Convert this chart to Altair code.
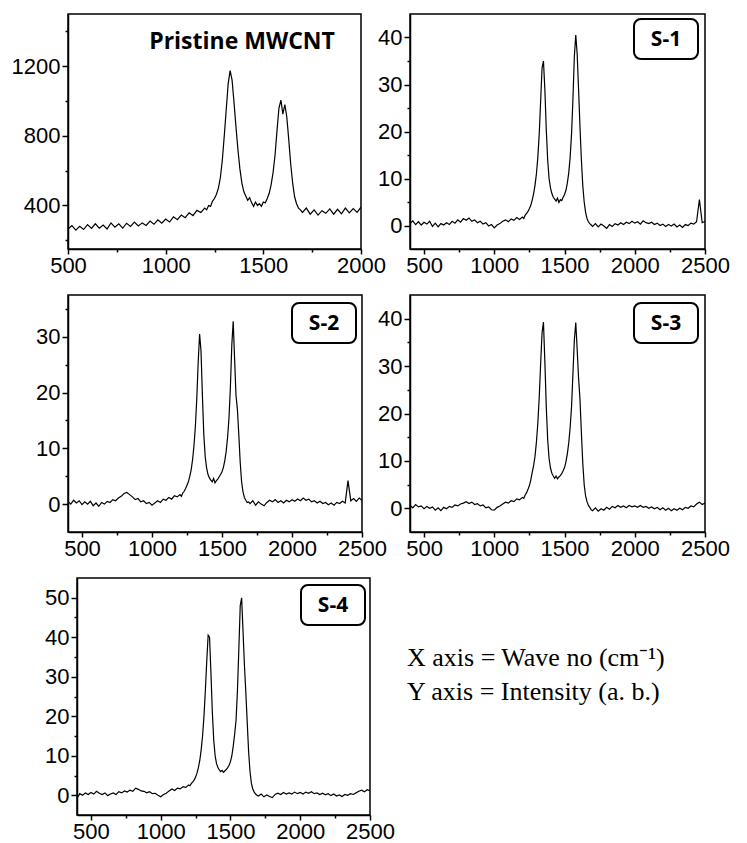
import altair as alt
import pandas as pd

# ---------------- data ----------------
# sampling grids of wave number (cm^-1)
WN_FULL = list(range(400, 1200, 20)) + list(range(1200, 1700, 10)) + list(range(1700, 2501, 20))
WN_PRISTINE = list(range(500, 1200, 20)) + list(range(1200, 1700, 10)) + list(range(1700, 2001, 20))

PRISTINE = [
    265, 285, 258, 280, 262, 290, 268, 295, 270, 288, 265, 300, 275, 295, 270, 298, 280, 305,
    282, 300, 285, 310, 292, 318, 298, 322, 305, 335, 318, 345, 330, 358, 342, 372, 360,
    385, 375, 400, 395, 425, 440, 465, 500, 560, 660,
    800, 950, 1100, 1175, 1120, 990, 850, 720, 610, 530,
    480, 455, 430, 445, 415, 395, 420, 400, 410, 395,
    420, 415, 440, 470, 520, 590, 690, 830, 960, 1005,
    925, 980, 910, 780, 640, 530, 450, 410, 385, 375,
    360, 385, 350, 375, 345, 370, 355, 380, 350, 378, 352, 385, 358, 382, 360, 390,
]

S1 = [
    0.4, 1.0, 0.2, 0.8, 0.1, 0.7, 0.3, 0.9, -0.2, 0.5,
    -0.3, 0.4, 0.1, 0.6, 0.2, 0.9, 0.5, 1.2, 0.7, 1.5,
    1.1, 1.6, 0.9, 1.2, 0.6, 0.9, 0.3, 0.6, -0.1, 0.2,
    -0.5, 0.1, 0.4, 0.9, 1.2, 0.8, 1.4, 1.1, 1.7, 1.3,
    1.8, 1.5, 2.2, 2.6, 3.0, 3.6, 4.3, 5.4, 6.8, 8.6,
    11.0, 14.5, 19.5, 26.5, 33.5, 35.0, 29.0, 20.5, 14.0, 10.0,
    8.0, 6.8, 6.0, 5.6, 5.2, 5.8, 4.9, 5.5, 5.3, 6.0,
    6.6, 7.5, 9.0, 11.2, 14.5, 19.5, 27.0, 36.0, 40.5, 36.5,
    29.0, 21.0, 14.0, 8.5, 5.0, 2.8, 1.5, 0.8, 0.4, 0.1,
    -0.2, 0.4, -0.3, 0.3, -0.1, -0.6, 0.2, -0.2, 0.4, 0.1,
    0.6, 0.2, 0.7, 0.4, 0.9, 0.5, 0.8, 0.3, 1.0, 0.6,
    0.4, 0.7, 0.2, 0.5, 0.0, 0.3, -0.2, 0.2, -0.1, 0.3,
    -0.3, 0.1, -0.4, 0.2, 0.0, 0.5, 0.3, 0.8, 5.5, 0.6,
    0.9,
]

S2 = [
    0.5, 0.0, 0.7, 0.2, 0.6, -0.1, 0.4, 0.0, 0.5, -0.3,
    0.2, -0.4, 0.3, 0.0, 0.5, 0.3, 0.8, 0.6, 1.1, 1.4,
    1.9, 2.1, 1.7, 1.3, 0.8, 1.0, 0.4, 0.6, 0.1, 0.3,
    -0.2, 0.2, 0.6, 0.3, 0.9, 0.7, 1.2, 0.9, 1.5, 1.3,
    1.7, 1.4, 2.0, 2.3, 2.8, 3.4, 4.0, 5.0, 6.2, 8.0,
    10.5, 14.0, 19.0, 25.5, 30.5, 27.5, 19.5, 12.5, 8.5, 6.5,
    5.3, 4.7, 4.3, 4.0, 4.6, 3.8, 4.2, 4.5, 4.9, 5.3,
    5.8, 6.6, 7.8, 9.5, 12.0, 15.5, 21.0, 28.5, 32.8, 26.0,
    19.5, 17.0, 12.5, 7.5, 4.0, 2.2, 1.2, 0.7, 0.3, 0.4,
    0.1, 0.6, -0.2, 0.4, 0.0, -0.3, 0.3, 0.7, 0.4, 0.8,
    0.3, 0.6, 0.2, 0.7, 0.4, 0.8, 0.5, 0.9, 0.6, 1.1,
    0.7, 0.9, 0.4, 0.6, 0.2, 0.5, 0.1, 0.3, -0.1, 0.2,
    -0.2, 0.3, 0.1, 0.5, 0.2, 4.2, 0.6, 1.0, 0.5, 1.1,
    0.7,
]

S3 = [
    0.6, 0.1, 0.8, 0.3, 0.5, -0.1, 0.4, 0.0, 0.3, -0.4,
    0.1, -0.5, 0.2, -0.1, 0.4, 0.2, 0.7, 0.5, 0.9, 1.1,
    1.4, 1.0, 1.3, 0.8, 1.0, 0.5, 0.7, 0.1, 0.3, -0.3,
    -0.4, 0.2, 0.5, 0.9, 1.3, 1.1, 1.6, 1.4, 2.0, 1.8,
    2.3, 2.1, 2.8, 3.3, 4.0, 4.8, 6.0, 7.6, 9.0, 11.0,
    14.0, 18.0, 23.5, 30.5, 37.0, 39.3, 31.0, 21.5, 14.5, 10.5,
    8.5, 7.4, 6.8, 6.3, 6.8, 6.2, 6.6, 6.9, 7.3, 7.9,
    8.6, 9.8, 11.5, 13.8, 17.0, 21.5, 28.5, 35.5, 39.2, 33.5,
    27.5, 23.0, 16.0, 9.5, 5.0, 2.6, 1.4, 0.6, 0.2, -0.3,
    -0.5, 0.1, -0.6, -0.1, -0.4, 0.2, -0.2, 0.4, 0.1, 0.6,
    0.2, 0.5, 0.1, 0.6, 0.3, 0.5, 0.2, 0.6, 0.2, 0.4,
    0.0, 0.3, -0.1, 0.2, -0.3, 0.1, -0.4, 0.0, -0.5, -0.1,
    -0.4, 0.0, -0.3, 0.2, 0.0, 0.5, 0.3, 0.9, 1.3, 0.8,
    1.1,
]

S4 = [
    -0.8, 0.4, 0.0, 0.6, 0.2, 0.7, 0.3, 1.0, 0.5, 0.2,
    0.6, -0.1, 0.3, 0.6, 0.2, 0.9, 0.6, 1.1, 0.8, 1.3,
    1.0, 1.8, 1.5, 1.1, 1.0, 0.6, 0.9, 0.4, 0.5, 0.0,
    -0.4, 0.2, 0.5, 1.1, 1.6, 1.2, 1.8, 1.6, 2.2, 2.0,
    2.6, 2.4, 3.0, 3.4, 3.9, 4.6, 5.6, 7.0, 8.8, 11.5,
    15.0, 20.0, 26.5, 34.0, 40.5, 40.0, 31.0, 21.0, 14.0, 10.0,
    8.0, 7.0, 6.4, 6.0, 6.3, 5.8, 6.2, 6.5, 7.0, 7.6,
    8.5, 10.0, 12.5, 15.5, 19.0, 26.5, 37.0, 48.0, 50.0, 41.5,
    33.0, 26.0, 18.5, 11.0, 6.0, 3.0, 1.6, 0.8, 0.3, 0.0,
    -0.2, 0.3, -0.4, 0.1, -0.3, -0.6, 0.2, 0.5, 0.2, 0.7,
    0.3, 0.6, 0.3, 0.8, 0.4, 0.7, 0.3, 0.8, 0.5, 0.9,
    0.4, 0.6, 0.2, 0.5, 0.1, 0.4, -0.1, 0.3, -0.2, 0.1,
    -0.3, 0.2, 0.0, 0.4, 0.2, 0.6, 1.0, 1.3, 0.9, 1.4,
    1.1,
]

X_TICKS_FULL = [500, 750, 1000, 1250, 1500, 1750, 2000, 2250, 2500]
X_TICKS_PRISTINE = [500, 750, 1000, 1250, 1500, 1750, 2000]
Y_TICKS_PRISTINE = [200, 400, 600, 800, 1000, 1200, 1400]
Y_TICKS_S = [0, 5, 10, 15, 20, 25, 30, 35, 40, 45, 50]

LABELS = ["S-1", "S-2", "S-3", "S-4"]
NOTE_LINES = ["X axis = Wave no (cm\u207b\u00b9)", "Y axis = Intensity (a. b.)"]

LABEL_FONT = "Liberation Sans"


def axis(values, step, offset=0, major=6, pad=2):
    return alt.Axis(
        values=values,
        format="d",
        labelExpr=f"datum.value % {step} === 0 ? datum.label : ''",
        tickSize={"condition": {"test": f"datum.value % {step} === 0", "value": major}, "value": 3},
        title=None,
        grid=False,
        labelFlush=False,
        labelOverlap=False,
        labelPadding=pad,
        offset=offset,
    )


def panel(wn, vals, xdom, ydom, xticks, yticks, ystep, width, height, x0=0):
    df = pd.DataFrame({"wn": wn, "I": vals})
    yt = [v for v in yticks if ydom[0] < v < ydom[1]]
    xscale = alt.Scale(domain=xdom, nice=False, zero=False)
    if x0:
        xscale = alt.Scale(domain=xdom, nice=False, zero=False, range=[x0, width])
    return alt.Chart(df).mark_line(color="black", strokeWidth=1.2, clip=True).encode(
        x=alt.X("wn:Q", scale=xscale, axis=axis(xticks, 500, major=5, pad=1)),
        y=alt.Y("I:Q", scale=alt.Scale(domain=ydom, nice=False, zero=False), axis=axis(yt, ystep, -x0)),
    ).properties(width=width, height=height)


def badge(text, left, top):
    d = pd.DataFrame({"t": [text]})
    box = alt.Chart(d).mark_rect(fill="white", stroke="black", strokeWidth=2, cornerRadius=7).encode(
        x=alt.value(left), x2=alt.value(left + 64), y=alt.value(top), y2=alt.value(top + 40)
    )
    txt = alt.Chart(d).mark_text(
        font="Open Sans", fontWeight="bold", fontSize=21, align="center", baseline="middle", color="black"
    ).encode(x=alt.value(left + 32), y=alt.value(top + 21), text="t:N")
    return box + txt


assert len(WN_FULL) == len(S1) == len(S2) == len(S3) == len(S4)
assert len(WN_PRISTINE) == len(PRISTINE)

p1_line = panel(WN_PRISTINE, PRISTINE, [500, 2000], [150, 1500], X_TICKS_PRISTINE, Y_TICKS_PRISTINE, 400, 293, 235)
p1_title = alt.Chart(pd.DataFrame({"t": ["Pristine MWCNT"]})).mark_text(
    font="Open Sans", fontWeight="bold", fontSize=23, align="center", baseline="alphabetic", color="black"
).encode(x=alt.value(174), y=alt.value(35), text="t:N")
p1 = p1_line + p1_title

p2 = panel(WN_FULL, S1, [400, 2500], [-5, 45], X_TICKS_FULL, Y_TICKS_S, 10, 295, 235) + badge(LABELS[0], 224, 5)
p3 = panel(WN_FULL, S2, [400, 2500], [-5, 37.5], X_TICKS_FULL, Y_TICKS_S, 10, 294, 237) + badge(LABELS[1], 224, 8)
p4 = panel(WN_FULL, S3, [400, 2500], [-5, 45], X_TICKS_FULL, Y_TICKS_S, 10, 295, 237) + badge(LABELS[2], 224, 8)

# last panel sits 9 px further right than the first column
P5_SHIFT = 9
p5_frame = alt.Chart(pd.DataFrame({"a": [0]})).mark_rect(
    fillOpacity=0, stroke="black", strokeWidth=1.5
).encode(x=alt.value(P5_SHIFT), x2=alt.value(302), y=alt.value(0), y2=alt.value(237))
note1 = alt.Chart(pd.DataFrame({"t": [NOTE_LINES[0]]})).mark_text(
    font="Liberation Serif", fontSize=26, align="left", baseline="alphabetic", color="black"
).encode(x=alt.value(339), y=alt.value(88), text="t:N")
note2 = alt.Chart(pd.DataFrame({"t": [NOTE_LINES[1]]})).mark_text(
    font="Liberation Serif", fontSize=26, align="left", baseline="alphabetic", color="black"
).encode(x=alt.value(339), y=alt.value(122), text="t:N")
p5 = alt.layer(
    panel(WN_FULL, S4, [400, 2500], [-5, 55], X_TICKS_FULL, Y_TICKS_S, 10, 302, 237, x0=P5_SHIFT),
    p5_frame,
    badge(LABELS[3], 224 + P5_SHIFT, 7),
    note1,
    note2,
).properties(view=alt.ViewBackground(strokeOpacity=0))

chart = alt.concat(
    p1, p2, p3, p4, p5, columns=2, spacing={"row": 46, "column": 40}, bounds="flush"
).properties(
    padding={"left": 2, "top": 5, "right": 5, "bottom": 5}
).configure_view(stroke="black", strokeWidth=1.5).configure_axis(
    domainColor="black", domainWidth=1.5, tickColor="black", tickWidth=1.5,
    labelFont=LABEL_FONT, labelFontSize=22, labelColor="black",
)

chart.save("out.html", embed_options={"renderer": "svg", "actions": False})
